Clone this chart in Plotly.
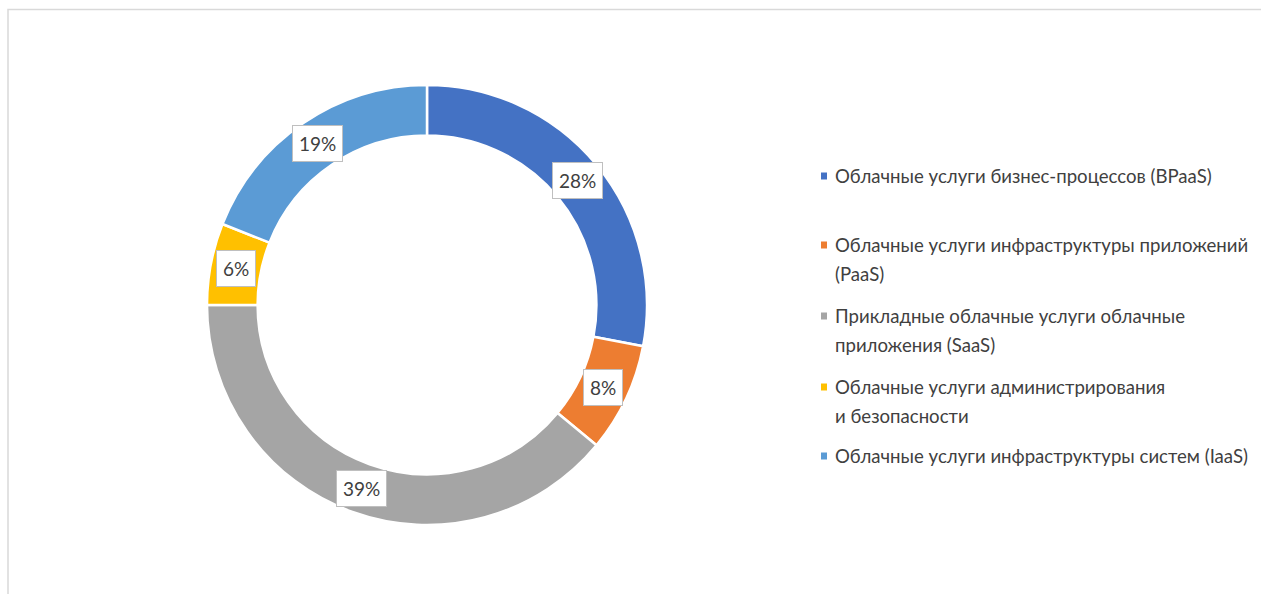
import math
import plotly.graph_objects as go

# Cloud services market structure (share, %)
categories = [
    "Облачные услуги бизнес-процессов (BPaaS)",
    "Облачные услуги инфраструктуры приложений\n(PaaS)",
    "Прикладные облачные услуги облачные\nприложения (SaaS)",
    "Облачные услуги администрирования\nи безопасности",
    "Облачные услуги инфраструктуры систем (IaaS)",
]
shares = [28, 8, 39, 6, 19]
colors = ["#4472C4", "#ED7D31", "#A5A5A5", "#FFC000", "#5B9BD5"]

W, H = 1261, 594
FONT = "Lato, Liberation Sans, sans-serif"
TEXT_COLOR = "#404040"

# donut geometry in pixels
cx, cy, R = 427, 305, 220
hole = 0.77


def px_x(x):
    return x / W


def px_y(y):
    return 1 - y / H


fig = go.Figure()
fig.add_trace(go.Pie(
    labels=[c.replace("\n", " ") for c in categories],
    values=shares,
    sort=False,
    direction="clockwise",
    rotation=0,
    hole=hole,
    marker=dict(colors=colors, line=dict(color="white", width=2.5)),
    textinfo="none",
    hoverinfo="label+percent",
    showlegend=False,
    domain=dict(x=[px_x(cx - R), px_x(cx + R)], y=[px_y(cy + R), px_y(cy - R)]),
))

annotations = []
shapes = []

# percentage labels in boxes at the middle of each ring segment
total = sum(shares)
cum = 0
rm = R * (1 + hole) / 2
for v in shares:
    theta = 2 * math.pi * (cum + v / 2) / total
    cum += v
    x = cx + rm * math.sin(theta)
    y = cy - rm * math.cos(theta)
    annotations.append(dict(
        x=px_x(x), y=px_y(y), xref="paper", yref="paper",
        text=f"{round(v / total * 100)}%", showarrow=False,
        font=dict(family=FONT, size=19, color=TEXT_COLOR),
        bgcolor="white", bordercolor="#BFBFBF", borderwidth=1, borderpad=6,
        xanchor="center", yanchor="middle",
    ))

# legend drawn manually: colored square + wrapped text
legend_first_line = [176, 245, 316, 387, 456]
line_step = 28.5
for label, color, y0 in zip(categories, colors, legend_first_line):
    shapes.append(dict(
        type="rect", xref="paper", yref="paper",
        x0=px_x(821), x1=px_x(827), y0=px_y(y0 + 3.5), y1=px_y(y0 - 3.5),
        fillcolor=color, line=dict(width=0),
    ))
    for i, line in enumerate(label.split("\n")):
        annotations.append(dict(
            x=px_x(833), y=px_y(y0 + i * line_step), xref="paper", yref="paper",
            text=line, showarrow=False, xanchor="left", yanchor="middle",
            font=dict(family=FONT, size=18.6, color=TEXT_COLOR),
        ))

# chart area frame
shapes.append(dict(
    type="rect", xref="paper", yref="paper",
    x0=px_x(8), x1=px_x(W + 20), y0=px_y(H + 20), y1=px_y(9.5),
    line=dict(color="#D9D9D9", width=1.5), fillcolor="rgba(0,0,0,0)",
))

fig.update_layout(
    width=W, height=H,
    margin=dict(l=0, r=0, t=0, b=0),
    paper_bgcolor="white", plot_bgcolor="white",
    annotations=annotations, shapes=shapes,
)

fig.write_html("out.html")
